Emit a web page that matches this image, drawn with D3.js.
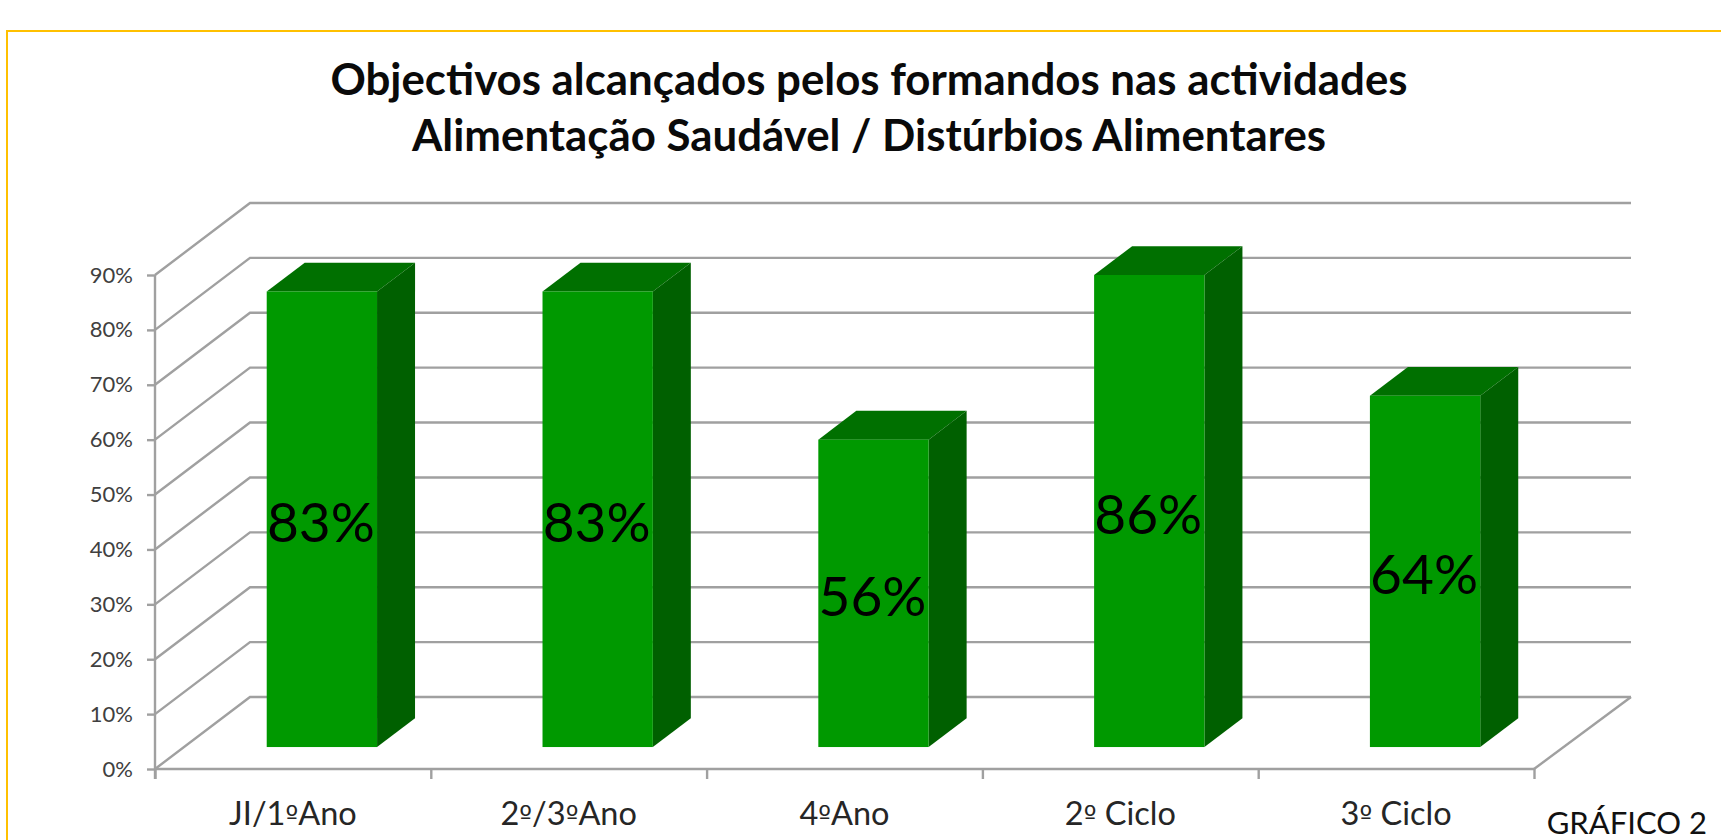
<!DOCTYPE html>
<html lang="pt">
<head>
<meta charset="utf-8">
<title>Objectivos alcançados</title>
<script src="https://cdn.jsdelivr.net/npm/d3@7"></script>
<style>
  html, body { margin: 0; padding: 0; background: #fff; overflow: hidden; }
  svg { display: block; font-family: Lato, "Open Sans", sans-serif; }
</style>
</head>
<body>
<svg id="chart"></svg>
<script>
// Données
const categories = ["JI/1ºAno", "2º/3ºAno", "4ºAno", "2º Ciclo", "3º Ciclo"];
const values = [0.83, 0.83, 0.56, 0.86, 0.64];
const valueLabels = ["83%", "83%", "56%", "86%", "64%"];
const yTicks = [0, 0.1, 0.2, 0.3, 0.4, 0.5, 0.6, 0.7, 0.8, 0.9];
const titleLines = [
  "Objectivos alcançados pelos formandos nas actividades",
  "Alimentação Saudável / Distúrbios Alimentares",
];

const width = 1721;
const height = 840;

const svg = d3.select("#chart").attr("width", width).attr("height", height)
  .attr("viewBox", `0 0 ${width} ${height}`);

// Cadre jaune, coupé à droite et en bas
svg.append("path")
  .attr("d", `M7 ${height + 5}V31H${width + 5}`)
  .attr("fill", "none")
  .attr("stroke", "#ffc000")
  .attr("stroke-width", 2);

// Titre
svg.append("g").selectAll("text")
  .data(titleLines)
  .enter()
  .append("text")
  .attr("x", 869)
  .attr("y", (d, i) => 95 + i * 56)
  .attr("text-anchor", "middle")
  .attr("font-size", 43.8)
  .attr("font-weight", 700)
  .attr("fill", "#0a0a0a")
  .text((d) => d);

// Échelles
const plot = { left: 155, right: 1534, top: 275, bottom: 769 };
const depth = { dx: 95, dy: -72 }; // profondeur du plancher
const barDepth = { start: 0.305, end: 0.705 };

const x = d3.scaleBand()
  .domain(categories)
  .range([plot.left, plot.right])
  .paddingInner(0.6)
  .paddingOuter(0.3);
const xEdges = d3.scaleLinear().domain([0, categories.length]).range([plot.left, plot.right]);
const y = d3.scaleLinear().domain([0, 0.9]).range([plot.bottom, plot.top]);

const gridColor = "#a0a0a0";

// Grille : diagonale sur le mur gauche + ligne sur le mur du fond
const grid = svg.append("g").attr("fill", "none").attr("stroke", gridColor).attr("stroke-width", 2.4);
grid.selectAll("path")
  .data(yTicks)
  .enter()
  .append("path")
  .attr("d", (d) => {
    const line = d3.line();
    return line([
      [plot.left, y(d)],
      [plot.left + depth.dx, y(d) + depth.dy],
      [plot.right + depth.dx + 2, y(d) + depth.dy],
    ]);
  });
// Bord droit du plancher
grid.append("path")
  .attr("d", d3.line()([
    [plot.right, y(0)],
    [plot.right + depth.dx + 2, y(0) + depth.dy],
  ]));

// Axe Y
const yAxis = svg.append("g")
  .attr("transform", `translate(${plot.left},0)`)
  .call(d3.axisLeft(y).tickValues(yTicks).tickFormat(d3.format(".0%")).tickSize(8).tickPadding(14));

// Axe X : graduations entre les catégories
const xAxis = svg.append("g")
  .attr("transform", `translate(0,${plot.bottom})`)
  .call(d3.axisBottom(xEdges).ticks(categories.length).tickFormat("").tickSize(10));

[yAxis, xAxis].forEach((axis) => {
  axis.selectAll("path, line").attr("stroke", gridColor).attr("stroke-width", 2.4);
  axis.attr("font-family", null).attr("font-size", null);
});
xAxis.select(".domain").attr("d", `M${plot.left},0H${plot.right}`);
yAxis.select(".domain").attr("d", `M0,${plot.top}V${plot.bottom + 10}`);
yAxis.selectAll("text").attr("font-size", 22).attr("fill", "#404040");

// Libellés des catégories, le º souligné vient d'une autre police
const catLabels = svg.append("g").selectAll("text")
  .data(categories)
  .enter()
  .append("text")
  .attr("x", (d) => x(d) + x.bandwidth() / 2)
  .attr("y", 825)
  .attr("text-anchor", "middle")
  .attr("font-size", 32.5)
  .attr("fill", "#262626");
catLabels.selectAll("tspan")
  .data((d) => d.split(/(º)/).filter((s) => s))
  .enter()
  .append("tspan")
  .attr("font-family", (s) => (s === "º" ? "DejaVu Sans" : null))
  .attr("font-size", (s) => (s === "º" ? 27 : null))
  .text((s) => s);

// Barres en 3D
const bars = svg.append("g").selectAll("g")
  .data(categories)
  .enter()
  .append("g")
  .attr("transform", `translate(${depth.dx * barDepth.start},${depth.dy * barDepth.start})`);

const sideX = depth.dx * (barDepth.end - barDepth.start);
const sideY = depth.dy * (barDepth.end - barDepth.start);

// Face du dessus
bars.append("path")
  .attr("fill", "#007000")
  .attr("d", (d, i) => {
    const x0 = x(d);
    const x1 = x0 + x.bandwidth();
    const top = y(values[i]);
    return d3.line()([[x0, top], [x1, top], [x1 + sideX, top + sideY], [x0 + sideX, top + sideY]]) + "Z";
  });

// Face de côté
bars.append("path")
  .attr("fill", "#006000")
  .attr("d", (d, i) => {
    const x1 = x(d) + x.bandwidth();
    const top = y(values[i]);
    return d3.line()([[x1, top], [x1 + sideX, top + sideY], [x1 + sideX, y(0) + sideY], [x1, y(0)]]) + "Z";
  });

// Face avant
bars.append("rect")
  .attr("x", (d) => x(d))
  .attr("y", (d, i) => y(values[i]))
  .attr("width", x.bandwidth())
  .attr("height", (d, i) => y(0) - y(values[i]))
  .attr("fill", "#009900");

// Valeurs sur les barres
bars.append("text")
  .attr("x", (d) => x(d) + x.bandwidth() / 2 - 1)
  .attr("y", (d, i) => (y(0) + y(values[i])) / 2 + 23)
  .attr("text-anchor", "middle")
  .attr("font-size", 55)
  .attr("fill", "#000")
  .text((d, i) => valueLabels[i]);

// Mention en bas à droite
svg.append("text")
  .attr("x", 1707)
  .attr("y", 834)
  .attr("text-anchor", "end")
  .attr("font-size", 31)
  .attr("fill", "#111")
  .text("GRÁFICO 2");
</script>
</body>
</html>
